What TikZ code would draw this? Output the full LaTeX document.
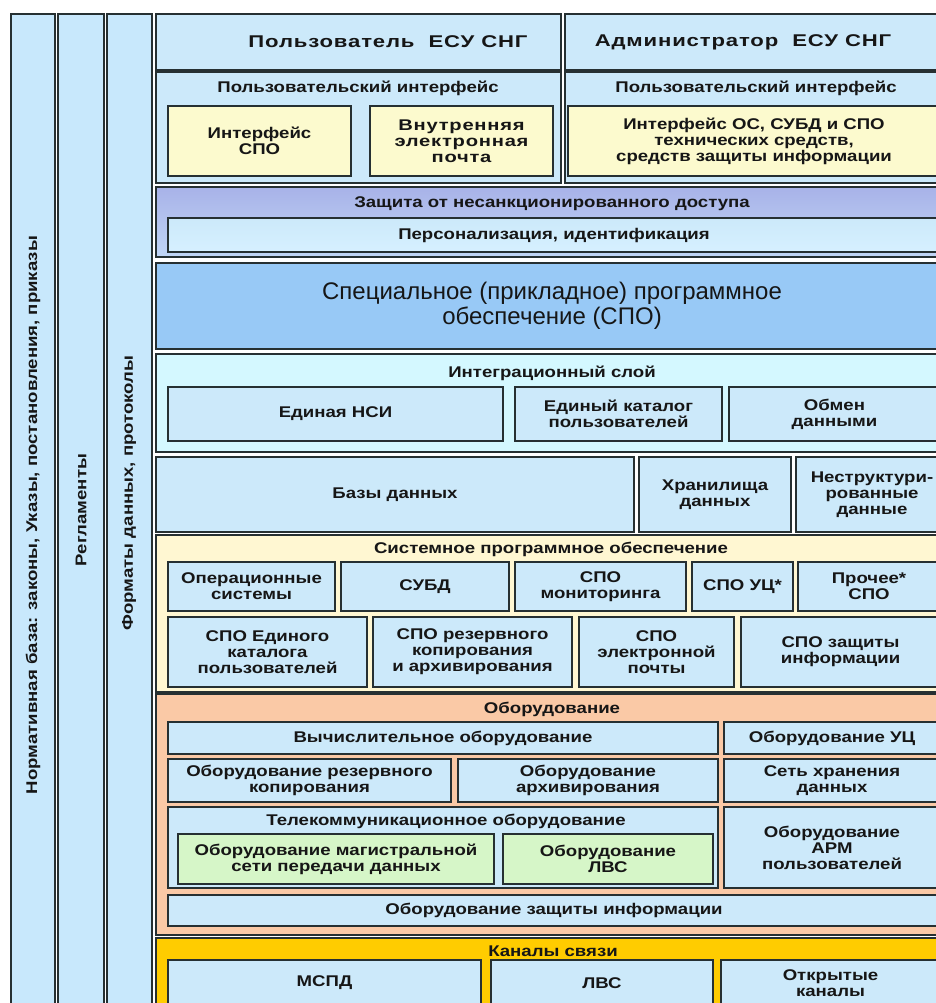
\documentclass[tikz,border=0pt]{standalone}
\usepackage{fontspec}
\setmainfont{Liberation Sans}
\newfontfamily\bfw{Liberation Sans}[FakeStretch=1.2]
\newfontfamily\bfwide{Liberation Sans}[FakeStretch=1.3,LetterSpace=5]
\definecolor{edge}{RGB}{38,48,50}
\definecolor{ink}{RGB}{22,22,22}
\definecolor{lb}{RGB}{204,233,250}
\definecolor{strip}{RGB}{200,232,252}
\definecolor{integ}{RGB}{212,248,255}
\definecolor{yel}{RGB}{252,250,206}
\definecolor{sysbg}{RGB}{255,247,210}
\definecolor{peach}{RGB}{250,201,166}
\definecolor{grn}{RGB}{214,246,200}
\definecolor{gold}{RGB}{255,204,0}
\definecolor{spob}{RGB}{152,201,246}
\definecolor{prtop}{RGB}{168,178,232}
\definecolor{prbot}{RGB}{192,214,246}
\newcommand\bx[7]{\node[#2,minimum width={(#5)-(#3)},minimum height={(#6)-(#4)}] (#1) at ({((#3)+(#5))/2},{((#4)+(#6))/2}) {#7};}
\tikzset{
  box/.style={draw=edge,line width=1.6pt,fill=lb,inner sep=0pt,outer sep=0pt,align=center,text=ink,
    font={\bfw\bfseries\fontsize{15.5}{16}\selectfont}},
  ttl/.style={inner sep=0pt,text=ink,align=center,font={\bfw\bfseries\fontsize{15.5}{16}\selectfont}},
  widetxt/.style={font={\bfwide\bfseries\fontsize{15.5}{16}\selectfont}},
  bigtxt/.style={font={\bfwide\bfseries\fontsize{17}{18}\selectfont}},
  vtxt/.style={ttl,rotate=90},
}
\begin{document}
\begin{tikzpicture}[x=1pt,y=-1pt]
\useasboundingbox (0,0) rectangle (936,1003);
\clip (0,0) rectangle (936,1003);
\fill[white] (0,0) rectangle (936,1003);
% left strips
\bx{s1}{box,fill=strip}{11}{14}{55}{1012}{}
\bx{s2}{box,fill=strip}{58}{14}{104}{1012}{}
\bx{s3}{box,fill=strip}{107}{14}{152}{1012}{}
\node[vtxt] (s1t) at (33,515) {Нормативная база: законы, Указы, постановления, приказы};
\node[vtxt] (s2t) at (81,510) {Регламенты};
\node[vtxt] (s3t) at (129,493) {Форматы данных, протоколы};
% row 1
\bx{user}{box}{156}{14}{561}{70}{}
\node[ttl,bigtxt] (usert) at (388,42) {Пользователь~~ЕСУ СНГ};
\bx{adm}{box}{565}{14}{948}{70}{}
\node[ttl,bigtxt] (admt) at (743,42) {Администратор~~ЕСУ СНГ};
% row 2
\bx{uiL}{box}{156}{72}{561}{183}{}
\node[ttl] (uiLt) at (358,88) {Пользовательский интерфейс};
\bx{uiR}{box}{565}{72}{948}{183}{}
\node[ttl] (uiRt) at (756,88) {Пользовательский интерфейс};
\bx{spoif}{box,fill=yel}{168}{106}{351}{176}{Интерфейс\\СПО}
\bx{mail}{box,fill=yel,widetxt}{370}{106}{553}{176}{Внутренняя\\электронная\\почта}
\bx{admif}{box,fill=yel}{568}{106}{940}{176}{Интерфейс ОС, СУБД и СПО\\технических средств,\\средств защиты информации}
% row 3
\bx{prot}{box,top color=prtop,bottom color=prbot}{156}{187}{948}{257}{}
\node[ttl] (prott) at (552,204) {Защита от несанкционированного доступа};
\bx{pers}{box,top color=lb,bottom color={rgb,255:red,214;green,240;blue,255}}{168}{218}{940}{252}{Персонализация, идентификация}
% row 4
\bx{spo}{box,fill=spob,font={\fontsize{24}{25}\selectfont}}{156}{263}{948}{349}{Специальное (прикладное) программное\\обеспечение (СПО)}
% row 5
\bx{integ}{box,fill=integ}{156}{354}{948}{452}{}
\node[ttl] (integt) at (552,373) {Интеграционный слой};
\bx{nsi}{box}{168}{387}{503}{441}{Единая НСИ}
\bx{cat}{box}{515}{387}{722}{441}{Единый каталог\\пользователей}
\bx{exch}{box}{729}{387}{940}{441}{Обмен\\данными}
% row 6
\bx{db}{box}{156}{457}{634}{532}{Базы данных}
\bx{wh}{box}{639}{457}{791}{532}{Хранилища\\данных}
\bx{unstr}{box}{796}{457}{948}{532}{Неструктури-\\рованные\\данные}
% row 7
\bx{sys}{box,fill=sysbg}{156}{535}{948}{692}{}
\node[ttl] (syst) at (551,549) {Системное программное обеспечение};
\bx{os}{box}{168}{562}{335}{611}{Операционные\\системы}
\bx{dbms}{box}{341}{562}{509}{611}{СУБД}
\bx{mon}{box}{515}{562}{686}{611}{СПО\\мониторинга}
\bx{uc}{box}{692}{562}{793}{611}{СПО УЦ*}
\bx{oth}{box}{798}{562}{940}{611}{Прочее*\\СПО}
\bx{cat2}{box}{168}{617}{367}{687}{СПО Единого\\каталога\\пользователей}
\bx{bak}{box}{373}{617}{572}{687}{СПО резервного\\копирования\\и архивирования}
\bx{mail2}{box}{579}{617}{734}{687}{СПО\\электронной\\почты}
\bx{sec}{box}{741}{617}{940}{687}{СПО защиты\\информации}
% row 8
\bx{hw}{box,fill=peach}{156}{694}{948}{935}{}
\node[ttl] (hwt) at (552,709) {Оборудование};
\bx{comp}{box}{168}{722}{718}{754}{Вычислительное оборудование}
\bx{uceq}{box}{724}{722}{940}{754}{Оборудование УЦ}
\bx{bakeq}{box}{168}{759}{451}{802}{Оборудование резервного\\копирования}
\bx{arch}{box}{458}{759}{718}{802}{Оборудование\\архивирования}
\bx{san}{box}{724}{759}{940}{802}{Сеть хранения\\данных}
\bx{tel}{box}{168}{807}{718}{888}{}
\node[ttl] (telt) at (446,821) {Телекоммуникационное оборудование};
\bx{bb}{box,fill=grn}{178}{834}{494}{884}{Оборудование магистральной\\сети передачи данных}
\bx{laneq}{box,fill=grn}{503}{834}{713}{884}{Оборудование\\ЛВС}
\bx{arm}{box}{724}{807}{940}{888}{Оборудование\\АРМ\\пользователей}
\bx{seceq}{box}{168}{895}{940}{926}{Оборудование защиты информации}
% row 9
\bx{ch}{box,fill=gold}{156}{938}{948}{1012}{}
\node[ttl] (cht) at (553,951) {Каналы связи};
\bx{mspd}{box}{168}{960}{481}{1006}{МСПД}
\bx{lan}{box}{491}{960}{713}{1006}{ЛВС}
\bx{open}{box}{721}{960}{940}{1006}{Открытые\\каналы}
\end{tikzpicture}
\end{document}
